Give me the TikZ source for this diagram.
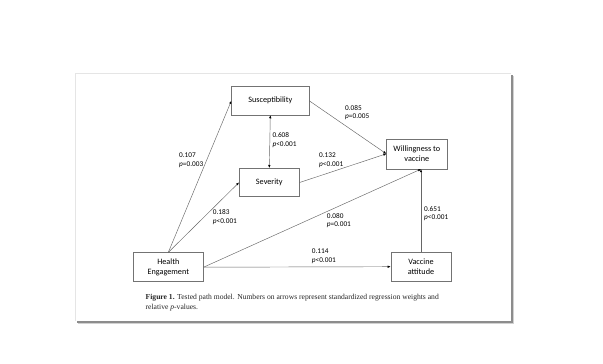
\documentclass[tikz,border=0pt]{standalone}
\usepackage{fontspec}
\setmainfont{Carlito}
\newfontfamily\capfont{Liberation Serif}
\usepackage{tikz}
\usetikzlibrary{positioning}
\usetikzlibrary{arrows.meta}

\begin{document}
\begin{tikzpicture}[x=1pt,y=-1pt,
        var/.style={draw=black!55, line width=0.6pt, inner sep=0pt, align=center, font=\fontsize{8.2}{10}\selectfont},
        path/.style={draw=black!60, line width=0.45pt, >={Latex[length=3pt,width=2.4pt,color=black]}, ->},
        coef/.style={inner sep=0pt, anchor=west, align=left, font=\fontsize{7.3}{8.6}\selectfont}]
        \useasboundingbox (0,0) rectangle (603,364);
        % page with its shadow
        \fill[black!18] (78,76) rectangle (514,324);
        \fill[black!45] (76.5,74.5) rectangle (512.5,322.5);
        \fill[white] (75,73) rectangle (511,321);
        \draw[black!10] (75,321) -- (75,73) -- (511,73);
        % variables
        \node[var, minimum width=77.3pt, minimum height=28.3pt] (sus) at (270.3,100.8) {Susceptibility};
        \node[var, minimum width=60pt, minimum height=28.4pt] (sev) at (269.3,182.5) {Severity};
        \node[var, minimum width=60.3pt, minimum height=30pt] (wil) at (416.8,153.8) {Willingness to\\vaccine};
        \node[var, minimum width=70pt, minimum height=29pt] (he) at (168.3,267.2) {Health\\Engagement};
        \node[var, minimum width=60pt, minimum height=28.7pt] (va) at (421,266.7) {Vaccine\\attitude};
        \coordinate (wilin) at (wil.south -| va.north);
        % paths
            \draw[path] (he.north)--(sus.west);
            \draw[path] (he.north)--(sev.west);
            \draw[path] (he.east)--(wilin);
            \draw[path] (he.east)--(va.west);
            \draw[path] (va.north)--(wilin);
            \draw[path] (sus.east)--(wil.west);
            \draw[path] (sev.east)--(wil.west);
            \draw[path,<->] (sus.south)--(sev.north);
        % coefficients
            \node[coef] (c085) at (345,112.5) {0.085\\\textit{p}=0.005};
            \node[coef] (c608) at (272.3,140) {0.608\\\textit{p}<0.001};
            \node[coef] (c107) at (179,160.5) {0.107\\\textit{p}=0.003};
            \node[coef] (c132) at (319,160) {0.132\\\textit{p}<0.001};
            \node[coef] (c183) at (212.7,216.8) {0.183\\\textit{p}<0.001};
            \node[coef] (c080) at (326.7,220.5) {0.080\\\textit{p}=0.001};
            \node[coef] (c651) at (424,213.8) {0.651\\\textit{p}<0.001};
            \node[coef] (c114) at (311.7,256) {0.114\\\textit{p}<0.001};
        % caption
        \node[inner sep=0pt, anchor=west, align=left, text=black!85, font=\capfont\fontsize{7.6}{9.6}\selectfont] (cap) at (145.5,302.5)
            {\textbf{Figure 1.} Tested path model. Numbers on arrows represent standardized regression weights and\\relative \textit{p}-values.};
\end{tikzpicture}
\end{document}
